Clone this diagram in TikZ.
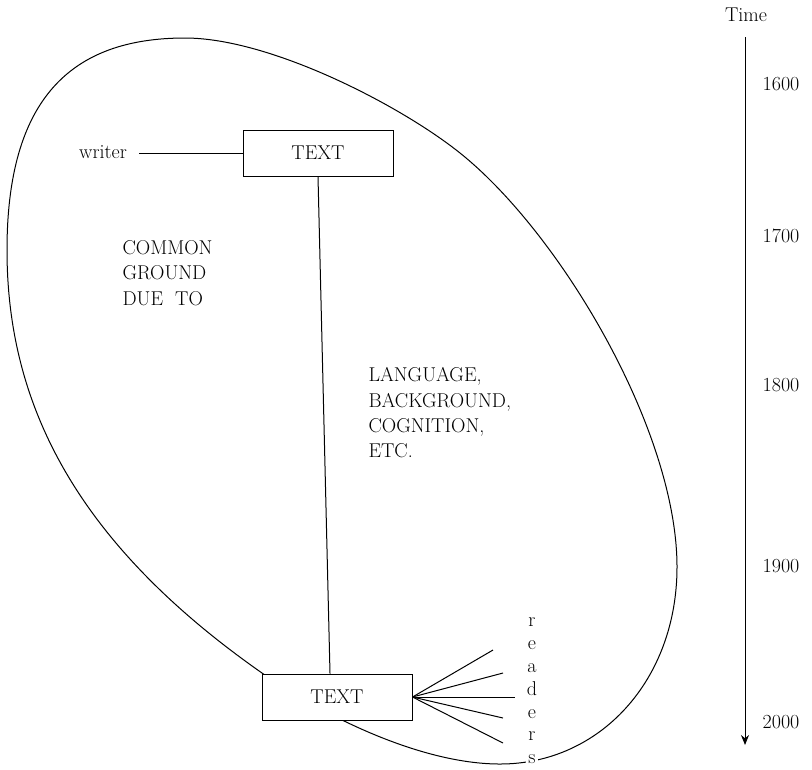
\documentclass[tikz,border=0pt]{standalone}
\usetikzlibrary{arrows.meta}

\tikzset{every picture/.style={line width=0.75pt}}
\tikzset{
  textbox/.style={draw, fill=white, minimum width=112.5pt, minimum height=34.5pt, inner sep=0pt},
  lbl/.style={font=\fontsize{15}{19}\selectfont, align=left, inner sep=0pt}
}

\begin{document}
\begin{tikzpicture}[x=0.75pt,y=0.75pt,yscale=-1,xscale=1]
		\useasboundingbox (0,0) rectangle (812,769);
		
		%Curve Lines (common ground)
		\draw (185,38) .. controls (270,38) and (400,105) .. (460,153)
		.. controls (560,233) and (677,430) .. (677,567)
		.. controls (677,680) and (600,764) .. (500,764)
		.. controls (420,764) and (322,715) .. (262,673)
		.. controls (72,540) and (7,400) .. (7,250)
		.. controls (7,100) and (70,38) .. (185,38) -- cycle;
		
		%Boxes
		\node [textbox, lbl] (wtext) at (318,153) {TEXT};
		\node [textbox, lbl] (rtext) at (337,697) {TEXT};
		
		% Text Node
		\node [lbl] (writer) at (103,152) {writer};
		%Straight Lines
		\draw ([xshift=9pt]writer.east |- wtext.west) -- (wtext.west);
		\draw (wtext.south) -- ([xshift=-5.25pt]rtext.north);
		
		%Fan of readers
		\coordinate (r1) at (493,650);
		\coordinate (r2) at (503,673);
		\coordinate (r3) at (515,697);
		\coordinate (r4) at (503,718);
		\coordinate (r5) at (503,743);
		\foreach \i in {1,...,5}
		\draw (rtext.east) -- (r\i);
		\node [lbl, align=center, fill=white, inner sep=1pt, font=\fontsize{15}{17.1}\selectfont] (readers) at (532,691) {r\\e\\a\\d\\e\\r\\s};
		
		% Text Node
		\node [lbl, anchor=west] (common) at (122,273) {COMMON\\GROUND\\DUE~ TO};
		% Text Node
		\node [lbl, anchor=west] (factors) at (368,413) {LANGUAGE,\\BACKGROUND,\\COGNITION,\\ETC.};
		
		%Time axis
		\node [lbl] (time) at (746,15) {Time};
		\coordinate (tstart) at (745,37);
		\coordinate (tend) at (745,745);
		\draw [-{Stealth[length=7.5pt,width=6pt]}] (tstart) -- (tend);
		\foreach \yr/\yy in {1600/84, 1700/236, 1800/385, 1900/566, 2000/722}
		\node [lbl] (y\yr) at (781,\yy) {\yr};
		
\end{tikzpicture}
\end{document}
